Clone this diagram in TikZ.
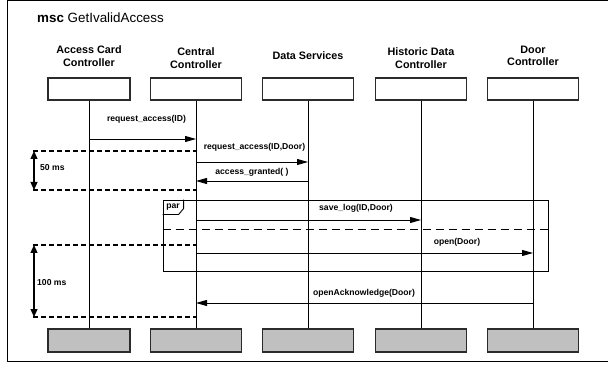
\documentclass[tikz,border=0pt]{standalone}
\usepackage{fontspec}
\setmainfont{Liberation Sans}
\usetikzlibrary{arrows.meta, positioning}
\definecolor{footgray}{HTML}{C0C0C0}
\definecolor{linegray}{HTML}{2B2B2B}

\begin{document}
\begin{tikzpicture}[x=1pt, y=-1pt,
  head/.style={rectangle, draw=linegray, line width=1.2pt, minimum width=91pt, minimum height=22pt, inner sep=0pt},
  foot/.style={head, fill=footgray, minimum height=23pt},
  partname/.style={font=\fontsize{10.8}{12.5}\selectfont\bfseries, align=center},
  lbl/.style={font=\fontsize{8.6}{10}\selectfont\bfseries, inner sep=0pt},
  life/.style={line width=0.9pt},
  msg/.style={-{Triangle[length=11pt, width=6pt]}, line width=0.9pt},
  timing/.style={dash pattern=on 5pt off 3pt, line width=2pt},
  span/.style={{Triangle[length=8pt, width=7pt]}-{Triangle[length=8pt, width=7pt]}, line width=1.1pt}
]
  \useasboundingbox (0,0) rectangle (608,366);

  % Frame and title
  \draw[line width=1pt] (608,0.5) -- (7.5,0.5) -- (7.5,361.5) -- (608,361.5);
  \node[anchor=west, inner sep=0pt, font=\fontsize{13.4}{15}\selectfont] (ttl) at (37,18) {\textbf{msc} GetIvalidAccess};

  % Instance names
  \node[partname] (accn) at (89, 56)  {Access Card\\Controller};
  \node[partname] (cenn) at (196, 58) {Central\\Controller};
  \node[partname] (datn) at (308, 56) {Data Services};
  \node[partname] (hisn) at (421, 58) {Historic Data\\Controller};
  \node[partname] (dorn) at (533, 56) {Door\\Controller};

  % Instance heads
  \node[head, minimum width=82pt] (acc) at (89, 89) {};
  \node[head] (cen) at (196, 89) {};
  \node[head] (dat) at (308, 89) {};
  \node[head] (his) at (421, 89) {};
  \node[head] (dor) at (533, 89) {};

  % Instance ends
  \node[foot, minimum width=82pt] (accf) at (89, 340.5) {};
  \node[foot] (cenf) at (196, 340.5) {};
  \node[foot] (datf) at (308, 340.5) {};
  \node[foot] (hisf) at (421, 340.5) {};
  \node[foot] (dorf) at (533, 340.5) {};

  % Lifelines
  \draw[life] (acc) -- (accf);
  \draw[life] (cen) -- (cenf);
  \draw[life] (dat) -- (datf);
  \draw[life] (his) -- (hisf);
  \draw[life] (dor) -- (dorf);

  % Message levels
  \coordinate (y1) at (0,139);
  \coordinate (y2) at (0,162);
  \coordinate (y3) at (0,181);
  \coordinate (y4) at (0,220);
  \coordinate (y5) at (0,253);
  \coordinate (y6) at (0,303);
  \coordinate (ysep) at (0,229);

  % Messages
  \draw[msg] (acc |- y1) -- (cen |- y1);
  \draw[msg] (cen |- y2) -- (dat |- y2);
  \draw[msg] (dat |- y3) -- (cen |- y3);
  \draw[msg] (cen |- y4) -- (his |- y4);
  \draw[msg] (cen |- y5) -- (dor |- y5);
  \draw[msg] (dor |- y6) -- (cen |- y6);

  \node[lbl] (m1) at (146.5, 119) {request\_access(ID)};
  \node[lbl] (m2) at (254.5, 147) {request\_access(ID,Door)};
  \node[lbl] (m3) at (252, 172)   {access\_granted(\ )};
  \node[lbl] (m4) at (356, 208)   {save\_log(ID,Door)};
  \node[lbl] (m5) at (457, 242)   {open(Door)};
  \node[lbl] (m6) at (364, 293)   {openAcknowledge(Door)};

  % Par frame
  \node[rectangle, draw, line width=0.9pt, minimum width=385pt, minimum height=71pt, inner sep=0pt] (par) at (355.5, 235.5) {};
  \draw[line width=0.9pt] (par.north west) ++(0,15) -- ++(16,0) -- ++(5,-6) -- ++(0,-9);
  \node[lbl] (parl) at (173, 207) {par};
  \draw[dash pattern=on 8pt off 5pt, line width=0.9pt] (par.west |- ysep) -- (par.east |- ysep);

  % Timing constraints
  \coordinate (t1a) at (33, 151);
  \coordinate (t1b) at (33, 190);
  \coordinate (t2a) at (33, 245);
  \coordinate (t2b) at (33, 317);
  \draw[timing] (t1a) -- (cen |- t1a);
  \draw[timing] (t1b) -- (cen |- t1b);
  \draw[timing] (t2a) -- (cen |- t2a);
  \draw[timing] (t2b) -- (cen |- t2b);
  \draw[span] ([xshift=1pt]t1a) -- ([xshift=1pt]t1b);
  \draw[span] ([xshift=1pt]t2a) -- ([xshift=1pt]t2b);
  \node[lbl, anchor=west] (c50) at (40, 168)  {50 ms};
  \node[lbl, anchor=west] (c100) at (37, 283) {100 ms};
\end{tikzpicture}
\end{document}
